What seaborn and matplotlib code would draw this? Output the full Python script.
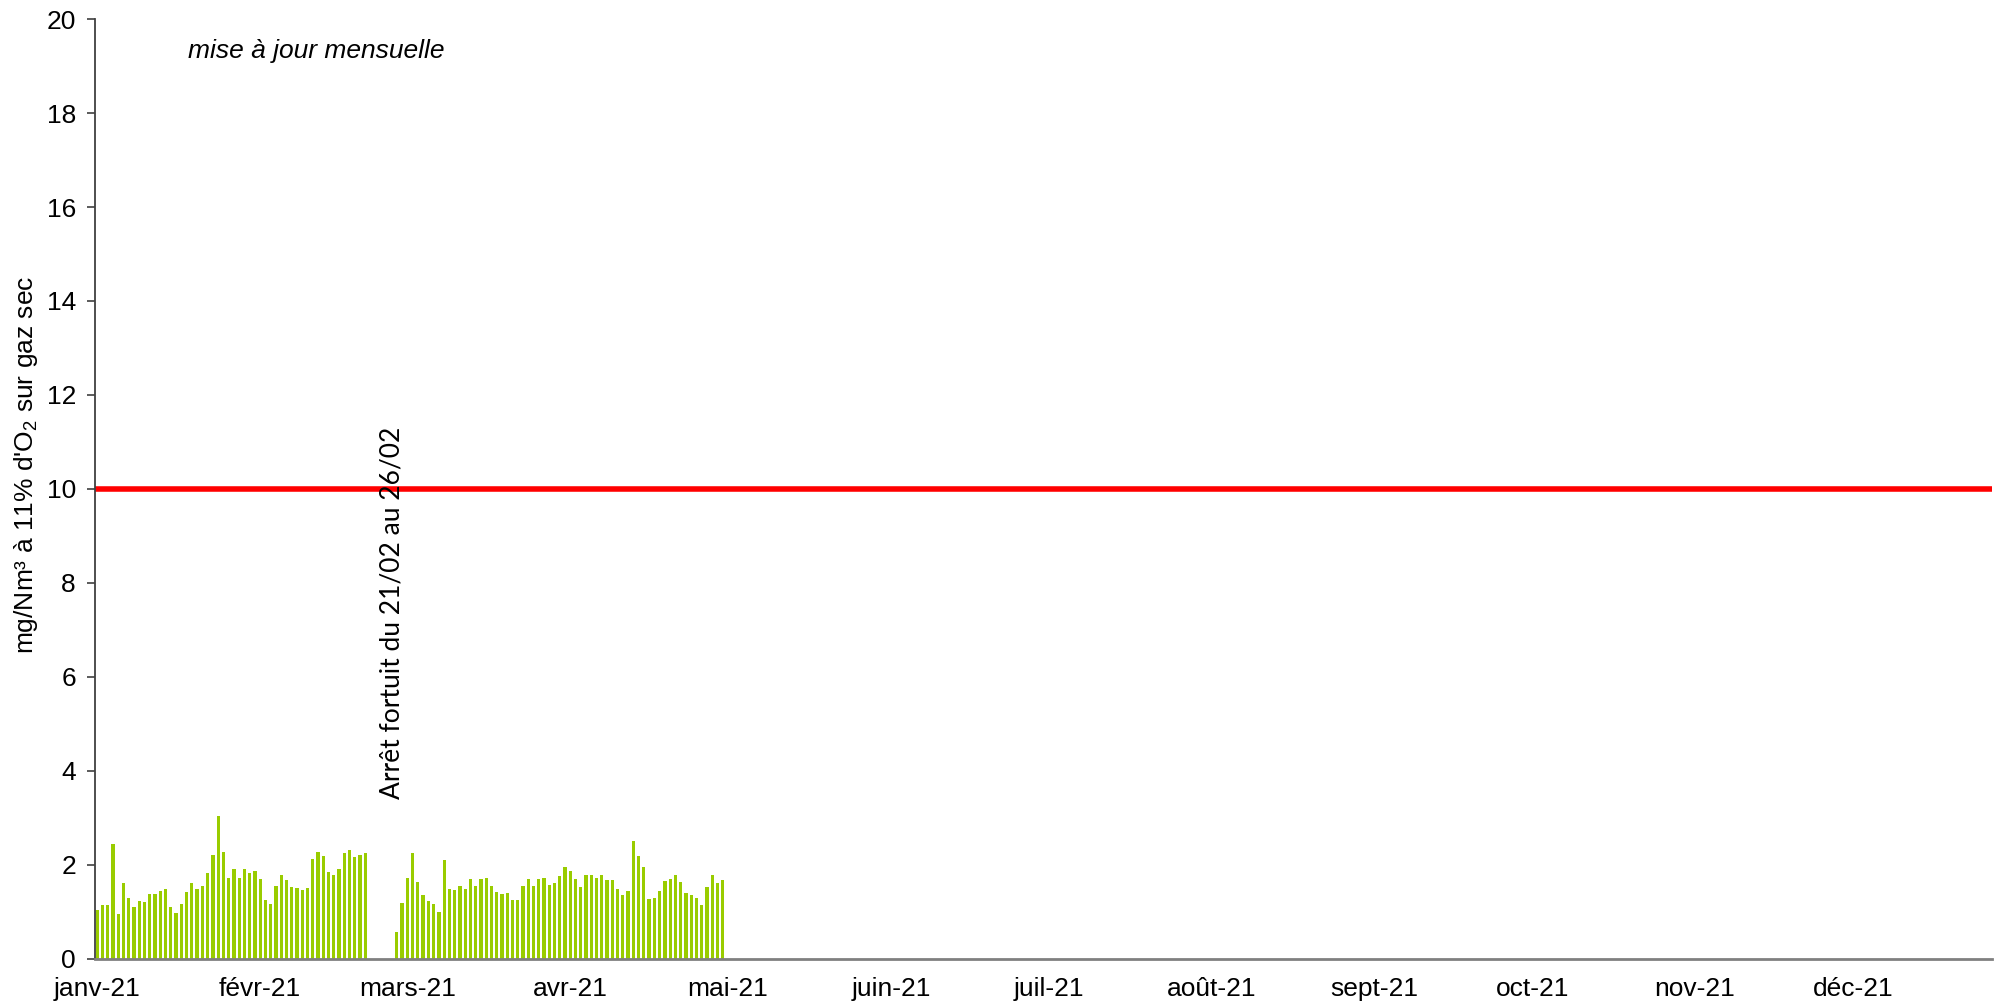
import pandas as pd
import seaborn as sns
import matplotlib.pyplot as plt
import numpy as np

# daily values, 1 Jan -> 21 Feb 2021
vals_jan_feb = [1.04, 1.14, 1.14, 2.43, 0.95, 1.62, 1.30, 1.10, 1.23, 1.20,
                1.37, 1.37, 1.44, 1.49, 1.10, 0.98, 1.16, 1.42, 1.61, 1.49,
                1.54, 1.83, 2.21, 3.03, 2.26, 1.72, 1.91, 1.72, 1.91, 1.83,
                1.87, 1.70, 1.25, 1.16, 1.55, 1.78, 1.68, 1.52, 1.50, 1.47,
                1.51, 2.11, 2.28, 2.19, 1.85, 1.79, 1.91, 2.25, 2.32, 2.16,
                2.21, 2.25]
# no data 22/02 -> 26/02 (arrêt fortuit)
gap_days = 5
# daily values, 27 Feb -> 30 Apr 2021
vals_mar_apr = [0.57, 1.18, 1.72, 2.25, 1.64, 1.36, 1.23, 1.16, 1.00, 2.09,
                1.49, 1.47, 1.54, 1.49, 1.70, 1.54, 1.70, 1.72, 1.54, 1.42,
                1.37, 1.40, 1.25, 1.25, 1.55, 1.70, 1.55, 1.70, 1.72, 1.57,
                1.62, 1.76, 1.96, 1.87, 1.70, 1.53, 1.78, 1.77, 1.72, 1.79,
                1.68, 1.67, 1.49, 1.36, 1.43, 2.51, 2.18, 1.96, 1.27, 1.30,
                1.44, 1.66, 1.70, 1.79, 1.64, 1.39, 1.35, 1.30, 1.15, 1.53,
                1.79, 1.62, 1.67]
limit_value = 10
month_labels = ['janv-21', 'févr-21', 'mars-21', 'avr-21', 'mai-21', 'juin-21',
                'juil-21', 'août-21', 'sept-21', 'oct-21', 'nov-21', 'déc-21']

start = pd.Timestamp('2021-01-01')
values = vals_jan_feb + [np.nan] * gap_days + vals_mar_apr
dates = pd.date_range(start, periods=len(values), freq='D')
df = pd.DataFrame({'day': (dates - start).days, 'value': values}).dropna()
month_days = (pd.date_range(start, periods=12, freq='MS') - start).days

sns.set_style('white')
plt.rcParams['font.family'] = ['Liberation Sans', 'DejaVu Sans']
plt.rcParams['text.color'] = 'black'
plt.rcParams['xtick.color'] = 'black'
plt.rcParams['ytick.color'] = 'black'
plt.rcParams['mathtext.fontset'] = 'custom'
plt.rcParams['mathtext.rm'] = 'Liberation Sans'

fig = plt.figure(figsize=(19.96, 10.08), dpi=100)
ax = fig.add_axes([0.0478, 0.049, 0.9502, 0.932])

sns.barplot(data=df, x='day', y='value', native_scale=True, width=0.62,
            color='#99CC00', saturation=1, edgecolor='none', errorbar=None, ax=ax)
ax.axhline(limit_value, color='#FF0000', lw=4)

ax.set_xlim(-0.35, 360.5)
ax.set_ylim(0, 20)
ax.set_yticks(range(0, 21, 2))
ax.set_xticks(month_days)
ax.set_xticklabels(month_labels)
ax.tick_params(axis='y', labelsize=19, length=6, width=1.2, color='#404040',
               direction='out', pad=8, left=True)
ax.tick_params(axis='x', labelsize=19, length=0, pad=13)
ax.set_xlabel('')
ax.set_ylabel('')

for s in ['top', 'right']:
    ax.spines[s].set_visible(False)
ax.spines['left'].set_color('#404040')
ax.spines['left'].set_linewidth(1.3)
ax.spines['bottom'].set_color('#808080')
ax.spines['bottom'].set_linewidth(2)

fig.text(26 / 1996, 1 - 465 / 1008, "mg/Nm³ à 11% d'O$_2$ sur gaz sec",
         rotation=90, ha='center', va='center', fontsize=19)
ax.text(17.3, 19.33, 'mise à jour mensuelle', style='italic', fontsize=19,
        ha='left', va='center')
ax.text(56, 3.4, 'Arrêt fortuit du 21/02 au 26/02', rotation=90,
        ha='center', va='bottom', fontsize=19,
        family=['Lato', 'DejaVu Sans'])

plt.savefig('out.png', dpi=100)
